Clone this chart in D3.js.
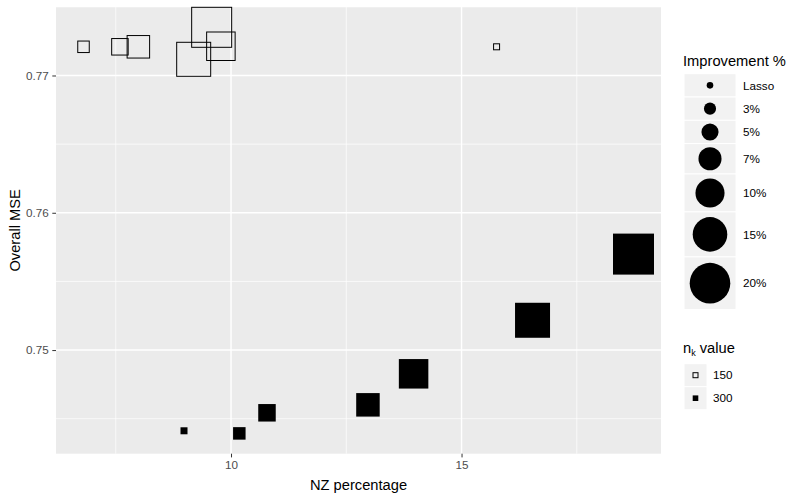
<!DOCTYPE html>
<html>
<head>
<meta charset="utf-8">
<script src="https://cdn.jsdelivr.net/npm/d3@7"></script>
<style>
  body { margin: 0; background: #fff; }
  svg { font-family: "Liberation Sans", Arial, sans-serif; }
</style>
</head>
<body>
<svg id="chart" width="800" height="500"></svg>
<script>
"use strict";

// improvement levels (size legend) and n_k groups (shape legend)
const improvement = ["Lasso", "3%", "5%", "7%", "10%", "15%", "20%"];
const nkValues = ["150", "300"];

// n_k = 150 (open squares), one per improvement level
const nz150 = [15.76, 6.80, 7.59, 7.99, 9.78, 9.19, 9.58];
const mse150 = [0.77209, 0.77209, 0.77209, 0.77209, 0.77213, 0.77118, 0.77351];

// n_k = 300 (filled squares)
const nz300 = [8.98, 10.18, 10.78, 12.97, 13.96, 16.54, 18.73];
const mse300 = [0.74412, 0.74393, 0.74543, 0.74601, 0.74827, 0.75217, 0.75699];

const xMajor = [10, 15], xMinor = [7.5, 12.5, 17.5];
const yMajor = [0.75, 0.76, 0.77], yMinor = [0.745, 0.755, 0.765, 0.775];

let points = [];
improvement.forEach(function(lvl, i) {
  points.push({nk: "150", imp: lvl, x: nz150[i], y: mse150[i]});
});
improvement.forEach(function(lvl, i) {
  points.push({nk: "300", imp: lvl, x: nz300[i], y: mse300[i]});
});

let svg = d3.select("#chart"),
  panel = {left: 56, right: 661, top: 7, bottom: 453.7},
  xExt = d3.extent(points, function(d) { return d.x; }),
  yExt = d3.extent(points, function(d) { return d.y; }),
  xPad = (xExt[1] - xExt[0]) * 0.05,
  yPad = (yExt[1] - yExt[0]) * 0.05,
  x = d3.scaleLinear().domain([xExt[0] - xPad, xExt[1] + xPad]).range([panel.left, panel.right]),
  y = d3.scaleLinear().domain([yExt[0] - yPad, yExt[1] + yPad]).range([panel.bottom, panel.top]),
  size = d3.scaleOrdinal().domain(improvement).range([7, 12.5, 17.5, 23.5, 29.5, 35, 41])
;

// panel
svg.append("rect")
  .attr("x", panel.left).attr("y", panel.top)
  .attr("width", panel.right - panel.left).attr("height", panel.bottom - panel.top)
  .attr("fill", "#ebebeb");

let grid = svg.append("g").attr("stroke", "#fff");
grid.selectAll(".xminor").data(xMinor).enter().append("line")
  .attr("x1", x).attr("x2", x).attr("y1", panel.top).attr("y2", panel.bottom)
  .attr("stroke-width", 0.7);
grid.selectAll(".yminor").data(yMinor).enter().append("line")
  .attr("y1", y).attr("y2", y).attr("x1", panel.left).attr("x2", panel.right)
  .attr("stroke-width", 0.7);
grid.selectAll(".xmajor").data(xMajor).enter().append("line")
  .attr("x1", x).attr("x2", x).attr("y1", panel.top).attr("y2", panel.bottom)
  .attr("stroke-width", 1.4);
grid.selectAll(".ymajor").data(yMajor).enter().append("line")
  .attr("y1", y).attr("y2", y).attr("x1", panel.left).attr("x2", panel.right)
  .attr("stroke-width", 1.4);

// axes
let xAxis = svg.append("g")
  .attr("transform", "translate(0," + panel.bottom + ")")
  .call(d3.axisBottom(x).tickValues(xMajor).tickSize(3.7).tickPadding(3).tickFormat(d3.format("d")));
let yAxis = svg.append("g")
  .attr("transform", "translate(" + panel.left + ",0)")
  .call(d3.axisLeft(y).tickValues(yMajor).tickSize(3.7).tickPadding(3.5).tickFormat(d3.format(".2f")));

[xAxis, yAxis].forEach(function(a) {
  a.select(".domain").remove();
  a.selectAll(".tick line").attr("stroke", "#333").attr("stroke-width", 1);
  a.selectAll(".tick text").attr("fill", "#4d4d4d").style("font-size", "11.7px")
    .style("font-family", "Liberation Sans, Arial, sans-serif");
});

svg.append("text")
  .attr("x", (panel.left + panel.right) / 2).attr("y", 490)
  .attr("text-anchor", "middle").style("font-size", "14.7px")
  .text("NZ percentage");

svg.append("text")
  .attr("transform", "translate(19.5," + ((panel.top + panel.bottom) / 2) + ") rotate(-90)")
  .attr("text-anchor", "middle").style("font-size", "14.7px")
  .text("Overall MSE");

// points
svg.append("g").selectAll(".pt")
  .data(points)
  .enter().append("rect")
    .attr("class", "pt")
    .attr("x", function(d) {
      let s = d.nk === "150" ? size(d.imp) - 1 : size(d.imp);
      return x(d.x) - s / 2;
    })
    .attr("y", function(d) {
      let s = d.nk === "150" ? size(d.imp) - 1 : size(d.imp);
      return y(d.y) - s / 2;
    })
    .attr("width", function(d) { return d.nk === "150" ? size(d.imp) - 1 : size(d.imp); })
    .attr("height", function(d) { return d.nk === "150" ? size(d.imp) - 1 : size(d.imp); })
    .attr("fill", function(d) { return d.nk === "150" ? "none" : "#000"; })
    .attr("stroke", function(d) { return d.nk === "150" ? "#000" : "none"; })
    .attr("stroke-width", 1);

// legend: improvement %
let legX = 684,
  keyW = 52,
  leg1 = svg.append("g");

leg1.append("text")
  .attr("x", 683).attr("y", 65.7)
  .style("font-size", "14.7px")
  .text("Improvement %");

let keyY = 73.7;
improvement.forEach(function(lvl) {
  let d = size(lvl),
    h = Math.max(23.3, d * 1.27 + 0.5);
  leg1.append("rect")
    .attr("x", legX).attr("y", keyY).attr("width", keyW).attr("height", h)
    .attr("fill", "#f2f2f2").attr("stroke", "#fff").attr("stroke-width", 1);
  leg1.append("circle")
    .attr("cx", legX + keyW / 2).attr("cy", keyY + h / 2).attr("r", d / 2 - 0.2)
    .attr("fill", "#000");
  leg1.append("text")
    .attr("x", 743).attr("y", keyY + h / 2).attr("dy", "0.36em")
    .style("font-size", "11.7px")
    .text(lvl);
  keyY += h;
});

// legend: n_k value
let leg2 = svg.append("g"),
  title2 = leg2.append("text").attr("x", 683).attr("y", 353.3).style("font-size", "14.7px");
title2.append("tspan").text("n");
title2.append("tspan").attr("dy", 3).style("font-size", "9px").text("k");
title2.append("tspan").attr("dy", -3).text(" value");

nkValues.forEach(function(v, i) {
  let ky = 363.7 + i * 23;
  leg2.append("rect")
    .attr("x", legX).attr("y", ky).attr("width", 23).attr("height", 23)
    .attr("fill", "#f2f2f2").attr("stroke", "#fff").attr("stroke-width", 1);
  if (v === "150") {
    leg2.append("rect")
      .attr("x", legX + 11.5 - 2.5).attr("y", ky + 11.5 - 2.5).attr("width", 5).attr("height", 5)
      .attr("fill", "none").attr("stroke", "#000").attr("stroke-width", 1);
  } else {
    leg2.append("rect")
      .attr("x", legX + 11.5 - 2.8).attr("y", ky + 11.5 - 2.8).attr("width", 5.6).attr("height", 5.6)
      .attr("fill", "#000");
  }
  leg2.append("text")
    .attr("x", 713).attr("y", ky + 11.5).attr("dy", "0.36em")
    .style("font-size", "11.7px")
    .text(v);
});
</script>
</body>
</html>
